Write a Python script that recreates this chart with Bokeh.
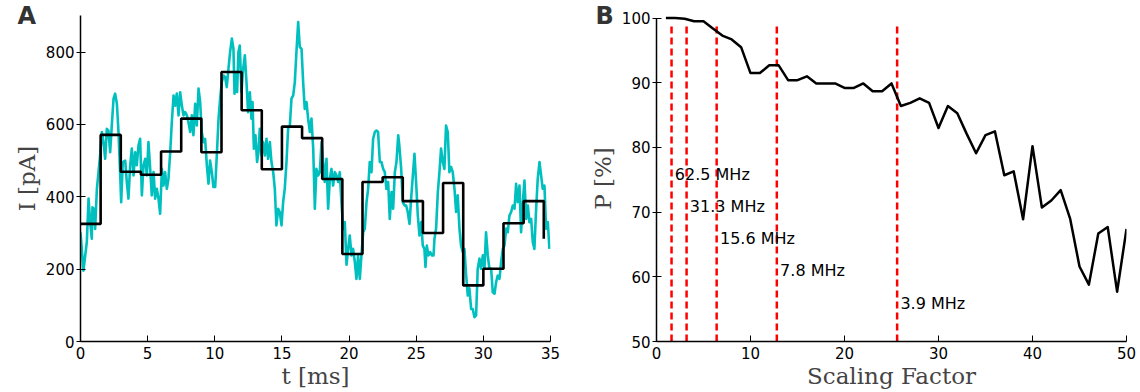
from bokeh.plotting import figure
from bokeh.layouts import row
from bokeh.models import Range1d, FixedTicker, Label
from bokeh.embed import file_html
from bokeh.resources import INLINE

# ---------------- Panel A data ----------------
t_ms = [0.00, 0.22, 0.47, 0.60, 0.72, 0.84, 0.89, 1.04, 1.09, 1.22, 1.34, 1.46, 1.59, 1.71, 1.84, 1.96,
        2.08, 2.21, 2.33, 2.46, 2.58, 2.71, 2.83, 2.95, 3.03, 3.15, 3.33, 3.45, 3.57, 3.70, 3.82, 3.95,
        4.07, 4.19, 4.32, 4.44, 4.57, 4.69, 4.82, 4.94, 5.06, 5.19, 5.31, 5.44, 5.56, 5.68, 5.81, 5.93,
        6.06, 6.18, 6.30, 6.43, 6.55, 6.68, 6.80, 6.93, 7.05, 7.17, 7.30, 7.42, 7.55, 7.67, 7.79, 7.92,
        8.04, 8.17, 8.29, 8.41, 8.54, 8.66, 8.79, 8.91, 9.03, 9.16, 9.28, 9.41, 9.53, 9.65, 9.78, 9.90,
        10.03, 10.15, 10.28, 10.40, 10.52, 10.65, 10.77, 10.89, 11.02, 11.14, 11.27, 11.39, 11.47, 11.58,
        11.66, 11.76, 11.86, 11.99, 12.11, 12.24, 12.36, 12.48, 12.61, 12.73, 12.81, 12.91, 13.03, 13.15,
        13.25, 13.35, 13.48, 13.60, 13.73, 13.85, 13.97, 14.10, 14.22, 14.35, 14.47, 14.59, 14.72, 14.84,
        14.97, 15.09, 15.21, 15.34, 15.46, 15.59, 15.71, 15.84, 15.96, 16.08, 16.21, 16.33, 16.46, 16.58,
        16.70, 16.83, 16.95, 17.08, 17.20, 17.33, 17.45, 17.57, 17.70, 17.82, 17.95, 18.07, 18.19, 18.32,
        18.44, 18.57, 18.69, 18.81, 18.94, 19.06, 19.19, 19.31, 19.43, 19.56, 19.68, 19.81, 19.93, 20.05,
        20.18, 20.30, 20.43, 20.55, 20.67, 20.80, 20.92, 21.05, 21.17, 21.30, 21.42, 21.54, 21.67, 21.79,
        21.92, 22.04, 22.16, 22.29, 22.41, 22.54, 22.66, 22.78, 22.91, 23.03, 23.16, 23.28, 23.41, 23.53,
        23.66, 23.75, 23.88, 24.00, 24.13, 24.25, 24.37, 24.50, 24.62, 24.75, 24.87, 24.99, 25.12, 25.24,
        25.37, 25.49, 25.61, 25.69, 25.79, 25.91, 26.04, 26.16, 26.29, 26.36, 26.48, 26.61, 26.73, 26.85,
        26.98, 27.10, 27.22, 27.35, 27.47, 27.60, 27.72, 27.85, 27.97, 28.09, 28.22, 28.34, 28.47, 28.59,
        28.72, 28.84, 28.96, 29.09, 29.21, 29.34, 29.46, 29.58, 29.71, 29.83, 29.96, 30.08, 30.20, 30.33,
        30.45, 30.58, 30.70, 30.83, 30.95, 31.07, 31.20, 31.32, 31.45, 31.57, 31.70, 31.82, 31.94, 32.07,
        32.19, 32.32, 32.44, 32.56, 32.69, 32.81, 32.94, 33.06, 33.19, 33.31, 33.43, 33.56, 33.68, 33.80,
        33.93, 34.05, 34.18, 34.30, 34.42, 34.55, 34.67, 34.80, 34.92]
current_pA = [302, 196, 275, 395, 330, 284, 371, 365, 311, 422, 468, 514, 579, 551, 505, 588,
              583, 523, 597, 671, 685, 657, 579, 468, 385, 496, 500, 440, 395, 487, 533, 459,
              523, 487, 542, 560, 404, 487, 505, 459, 551, 477, 404, 468, 395, 422, 395, 353,
              477, 431, 468, 422, 450, 523, 606, 680, 652, 685, 625, 689, 652, 625, 634, 625,
              606, 579, 625, 570, 657, 597, 699, 662, 579, 551, 560, 487, 436, 500, 468, 427,
              427, 514, 616, 671, 717, 735, 731, 703, 754, 800, 837, 809, 685, 740,
              690, 800, 818, 689, 753, 791, 717, 634, 689, 616, 662, 533, 570, 496,
              523, 588, 514, 551, 514, 560, 505, 551, 496, 468, 422, 321, 367, 358,
              321, 385, 422, 496, 588, 597, 671, 680, 717, 800, 883, 814, 809, 717,
              643, 662, 616, 579, 616, 533, 367, 477, 459, 468, 551, 496, 441, 505,
              367, 450, 477, 431, 468, 459, 441, 468, 385, 312, 330, 212, 256, 293,
              238, 256, 219, 173, 238, 173, 238, 302, 312, 385, 422, 496, 468, 560,
              579, 583, 579, 496, 496, 477, 468, 422, 441, 339, 413, 367, 468, 496,
              570, 539, 477, 385, 376, 376, 358, 325, 394, 459, 519, 441, 348, 293,
              330, 265, 256, 206, 265, 238, 247, 238, 238, 284, 312, 413, 468, 533,
              496, 477, 597, 579, 468, 482, 468, 422, 358, 404, 312, 265, 247, 256,
              182, 127, 147, 90, 90, 67, 72, 201, 229, 201, 238, 201, 302, 238,
              201, 201, 136, 132, 164, 182, 173, 219, 256, 265, 312, 302, 348, 358,
              376, 367, 436, 385, 431, 302, 385, 445, 339, 376, 330, 339, 275, 256,
              367, 450, 496, 459, 422, 431, 312, 330, 256]

step_t = [0, 1.5, 3, 4.5, 6, 7.5, 9, 10.5, 12, 13.5, 15, 16.5, 18, 19.5, 21, 22.5, 24, 25.5,
          27, 28.5, 30, 31.5, 33, 34.5]
step_pA = [325, 571, 469, 461, 525, 616, 523, 745, 639, 476, 594, 562, 449, 242, 441, 454, 388,
           300, 438, 155, 201, 327, 388, 284]

a_xticks = [0, 5, 10, 15, 20, 25, 30, 35]
a_yticks = [0, 200, 400, 600, 800]

# ---------------- Panel B data ----------------
scaling = list(range(1, 51))
perf = [100, 100, 99.9, 99.5, 99.5, 98.4, 97.3, 96.7, 95.5, 91.5,
        91.5, 92.7, 92.7, 90.4, 90.4, 91.0, 89.9, 89.9, 89.9, 89.2,
        89.2, 89.9, 88.7, 88.7, 89.9, 86.4, 86.9, 87.6, 86.9, 83.0,
        86.4, 85.3, 82.1, 79.1, 81.9, 82.5, 75.7, 76.3, 68.9, 80.2,
        70.7, 71.8, 73.4, 69.0, 61.6, 58.8, 66.7, 67.7, 57.7, 67.4]
freq_scale = [1.6, 3.2, 6.4, 12.8, 25.6]
freq_labels = ["62.5 MHz", "31.3 MHz", "15.6 MHz", "7.8 MHz", "3.9 MHz"]
freq_label_y = [75.8, 70.8, 65.85, 60.9, 55.8]
b_xticks = [0, 10, 20, 30, 40, 50]
b_yticks = [50, 60, 70, 80, 90, 100]

CYAN = "#00bfbf"
TICK_FONT = "DejaVu Sans"
LABEL_FONT = "DejaVu Serif"
LABEL_COLOR = "#444444"


def style(p, letter, letter_offset):
    p.outline_line_color = None
    p.xgrid.grid_line_color = None
    p.ygrid.grid_line_color = None
    p.background_fill_color = "white"
    p.border_fill_color = "white"
    for ax in (p.xaxis[0], p.yaxis[0]):
        ax.axis_line_color = "black"
        ax.axis_line_width = 1.5
        ax.major_tick_line_color = "black"
        ax.major_tick_line_width = 1
        ax.minor_tick_line_color = None
        ax.major_label_text_font = TICK_FONT
        ax.major_label_text_font_size = "15px"
        ax.major_label_text_color = "black"
        ax.axis_label_text_font = LABEL_FONT
        ax.axis_label_text_font_size = "23px"
        ax.axis_label_text_font_style = "normal"
        ax.axis_label_text_color = LABEL_COLOR
    p.xaxis.major_tick_in = 6
    p.xaxis.major_tick_out = 0
    p.xaxis.major_label_standoff = 5
    p.xaxis.axis_label_standoff = 1
    p.yaxis.major_tick_in = 5
    p.yaxis.major_tick_out = 4
    p.yaxis.major_label_standoff = 2
    p.yaxis.axis_label_standoff = 3
    # panel letter as the figure title
    p.title.text = letter
    p.title.align = "left"
    p.title.offset = letter_offset
    p.title.standoff = -28
    p.title.text_font = "DejaVu Sans"
    p.title.text_font_size = "24px"
    p.title.text_font_style = "bold"
    p.title.text_color = "#333333"


# ---------------- Panel A ----------------
pa = figure(width=570, height=392, output_backend="svg", toolbar_location=None,
            x_range=Range1d(0, 35), y_range=Range1d(0, 901),
            min_border_left=80, min_border_right=20, min_border_top=15, min_border_bottom=51,
            x_axis_label="t [ms]", y_axis_label="I [pA]")
style(pa, "A", -63)
pa.xaxis.ticker = FixedTicker(ticks=a_xticks)
pa.yaxis.ticker = FixedTicker(ticks=a_yticks)
pa.line(t_ms, current_pA, line_color=CYAN, line_width=2.6, line_join="round")
pa.step(step_t, step_pA, mode="after", line_color="black", line_width=2.6)

# ---------------- Panel B ----------------
pb = figure(width=570, height=392, output_backend="svg", toolbar_location=None,
            x_range=Range1d(0, 50), y_range=Range1d(50, 100.4),
            min_border_left=86, min_border_right=14, min_border_top=12, min_border_bottom=51,
            x_axis_label="Scaling Factor", y_axis_label="P [%]")
style(pb, "B", -61)
pb.yaxis.bounds = (50, 100)
pb.xaxis.ticker = FixedTicker(ticks=b_xticks)
pb.yaxis.ticker = FixedTicker(ticks=b_yticks)
pb.segment(x0=freq_scale, y0=[50] * len(freq_scale), x1=freq_scale, y1=[99] * len(freq_scale),
           line_color="#ff0000", line_width=2.5, line_dash="7 4")
pb.line(scaling, perf, line_color="black", line_width=2.5, line_join="round")
for xs, lab, ly in zip(freq_scale, freq_labels, freq_label_y):
    pb.add_layout(Label(x=xs + 0.35, y=ly, text=lab, text_font="DejaVu Sans", text_font_size="16px",
                        text_color="black", text_baseline="middle", text_align="left"))

layout = row(pa, pb)
open("out.html", "w").write(file_html(layout, INLINE))
